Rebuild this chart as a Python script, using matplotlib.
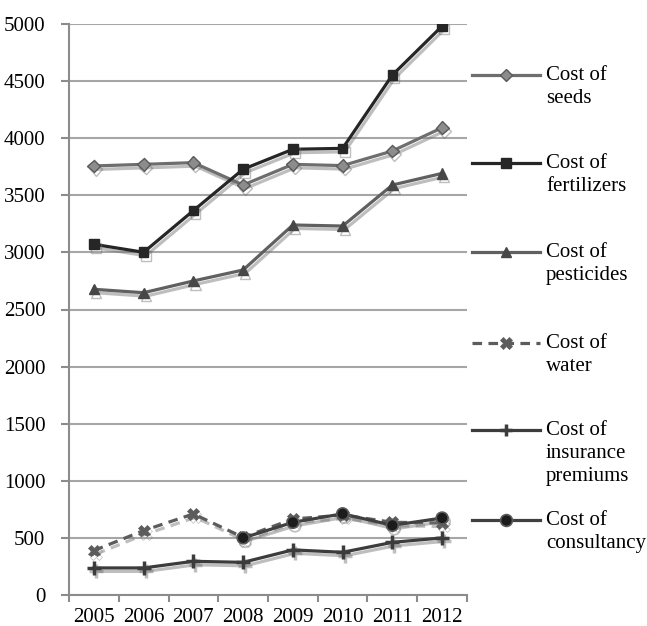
import matplotlib
matplotlib.use("Agg")
import matplotlib.pyplot as plt
import matplotlib.patheffects as pe
from matplotlib.lines import Line2D
import numpy as np

plt.rcParams['font.family'] = ['Liberation Serif', 'DejaVu Serif']

years = ['2005', '2006', '2007', '2008', '2009', '2010', '2011', '2012']
seeds = [3757, 3771, 3786, 3590, 3771, 3760, 3888, 4092]
fertilizers = [3071, 3001, 3366, 3728, 3903, 3911, 4553, 4982]
pesticides = [2677, 2647, 2750, 2846, 3240, 3231, 3590, 3692]
water = [389, 564, 710, 505, 665, 700, 637, 630]
insurance = [237, 237, 295, 286, 395, 374, 461, 500]
consultancy = [None, None, None, 500, 636, 711, 610, 674]

labels = ['Cost of\nseeds', 'Cost of\nfertilizers', 'Cost of\npesticides',
          'Cost of\nwater', 'Cost of\ninsurance\npremiums', 'Cost of\nconsultancy']

# style per series: line colour, linestyle, marker, marker face, marker edge, size
styles = [
    dict(color='#6e6e6e', ls='-', marker='D', mfc='#8c8c8c', mec='#5a5a5a', ms=6.5, mew=1.0),
    dict(color='#262626', ls='-', marker='s', mfc='#262626', mec='#262626', ms=7, mew=1.0),
    dict(color='#606060', ls='-', marker='^', mfc='#474747', mec='#474747', ms=7.5, mew=1.0),
    dict(color='#5c5c5c', ls=(0, (3, 2)), marker='X', mfc='#5c5c5c', mec='#5c5c5c', ms=8.5, mew=0.5),
    dict(color='#3c3c3c', ls='-', marker='+', mfc='#3c3c3c', mec='#3c3c3c', ms=10, mew=2.5),
    dict(color='#404040', ls='-', marker='o', mfc='#1c1c1c', mec='#5a5a5a', ms=8.5, mew=1.2),
]

series = [seeds, fertilizers, pesticides, water, insurance, consultancy]

fig = plt.figure(figsize=(6.47, 6.26), dpi=100)
ax = fig.add_axes([69 / 647, 1 - 595 / 626, 398 / 647, 571 / 626])

x = np.arange(len(years))
shadow = [pe.SimpleLineShadow(offset=(1.5, -2.5), shadow_color='#707070', alpha=0.45), pe.Normal()]

for i, (vals, st) in enumerate(zip(series, styles)):
    y = np.array([np.nan if v is None else v for v in vals], dtype=float)
    ax.plot(x, y, color=st['color'], ls=st['ls'], lw=2.3, marker=st['marker'],
            mfc=st['mfc'], mec=st['mec'], ms=st['ms'], mew=st['mew'],
            zorder=3 + i, path_effects=shadow)

ax.set_xlim(-0.5, 7.5)
ax.set_ylim(0, 5000)
ax.set_yticks(np.arange(0, 5001, 500))
ax.set_xticks(np.arange(-0.5, 8, 1))
ax.set_xticklabels([])
ax.set_xticks(x, minor=True)
ax.set_xticklabels(years, minor=True, fontsize=15)
ax.tick_params(axis='x', which='minor', length=0, pad=9)
ax.tick_params(axis='x', which='major', length=5, width=1.5, color='#8c8c8c')
ax.tick_params(axis='y', length=6, width=1.5, color='#8c8c8c', labelsize=15, pad=11)

ax.grid(axis='y', color='#a6a6a6', lw=1.5)
ax.set_axisbelow(True)
for s in ['top', 'right']:
    ax.spines[s].set_visible(False)
for s in ['left', 'bottom']:
    ax.spines[s].set_color('#8c8c8c')
    ax.spines[s].set_linewidth(1.5)

# legend drawn by hand so the handle lines up with the first text line
leg_y = [75, 163, 252, 343, 430, 520]
for lab, st, ly in zip(labels, styles, leg_y):
    yf = 1 - ly / 626
    h = Line2D([472 / 647, 540 / 647], [yf, yf], transform=fig.transFigure,
               color=st['color'], ls=st['ls'], lw=2.3)
    m = Line2D([506 / 647], [yf], transform=fig.transFigure, ls='none',
               marker=st['marker'], mfc=st['mfc'], mec=st['mec'],
               ms=min(st['ms'], 9), mew=st['mew'])
    fig.add_artist(h)
    fig.add_artist(m)
    fig.text(546 / 647, yf + 9 / 626, lab, fontsize=15, va='top', ha='left',
             linespacing=1.3)

fig.savefig('out.png', dpi=100)
